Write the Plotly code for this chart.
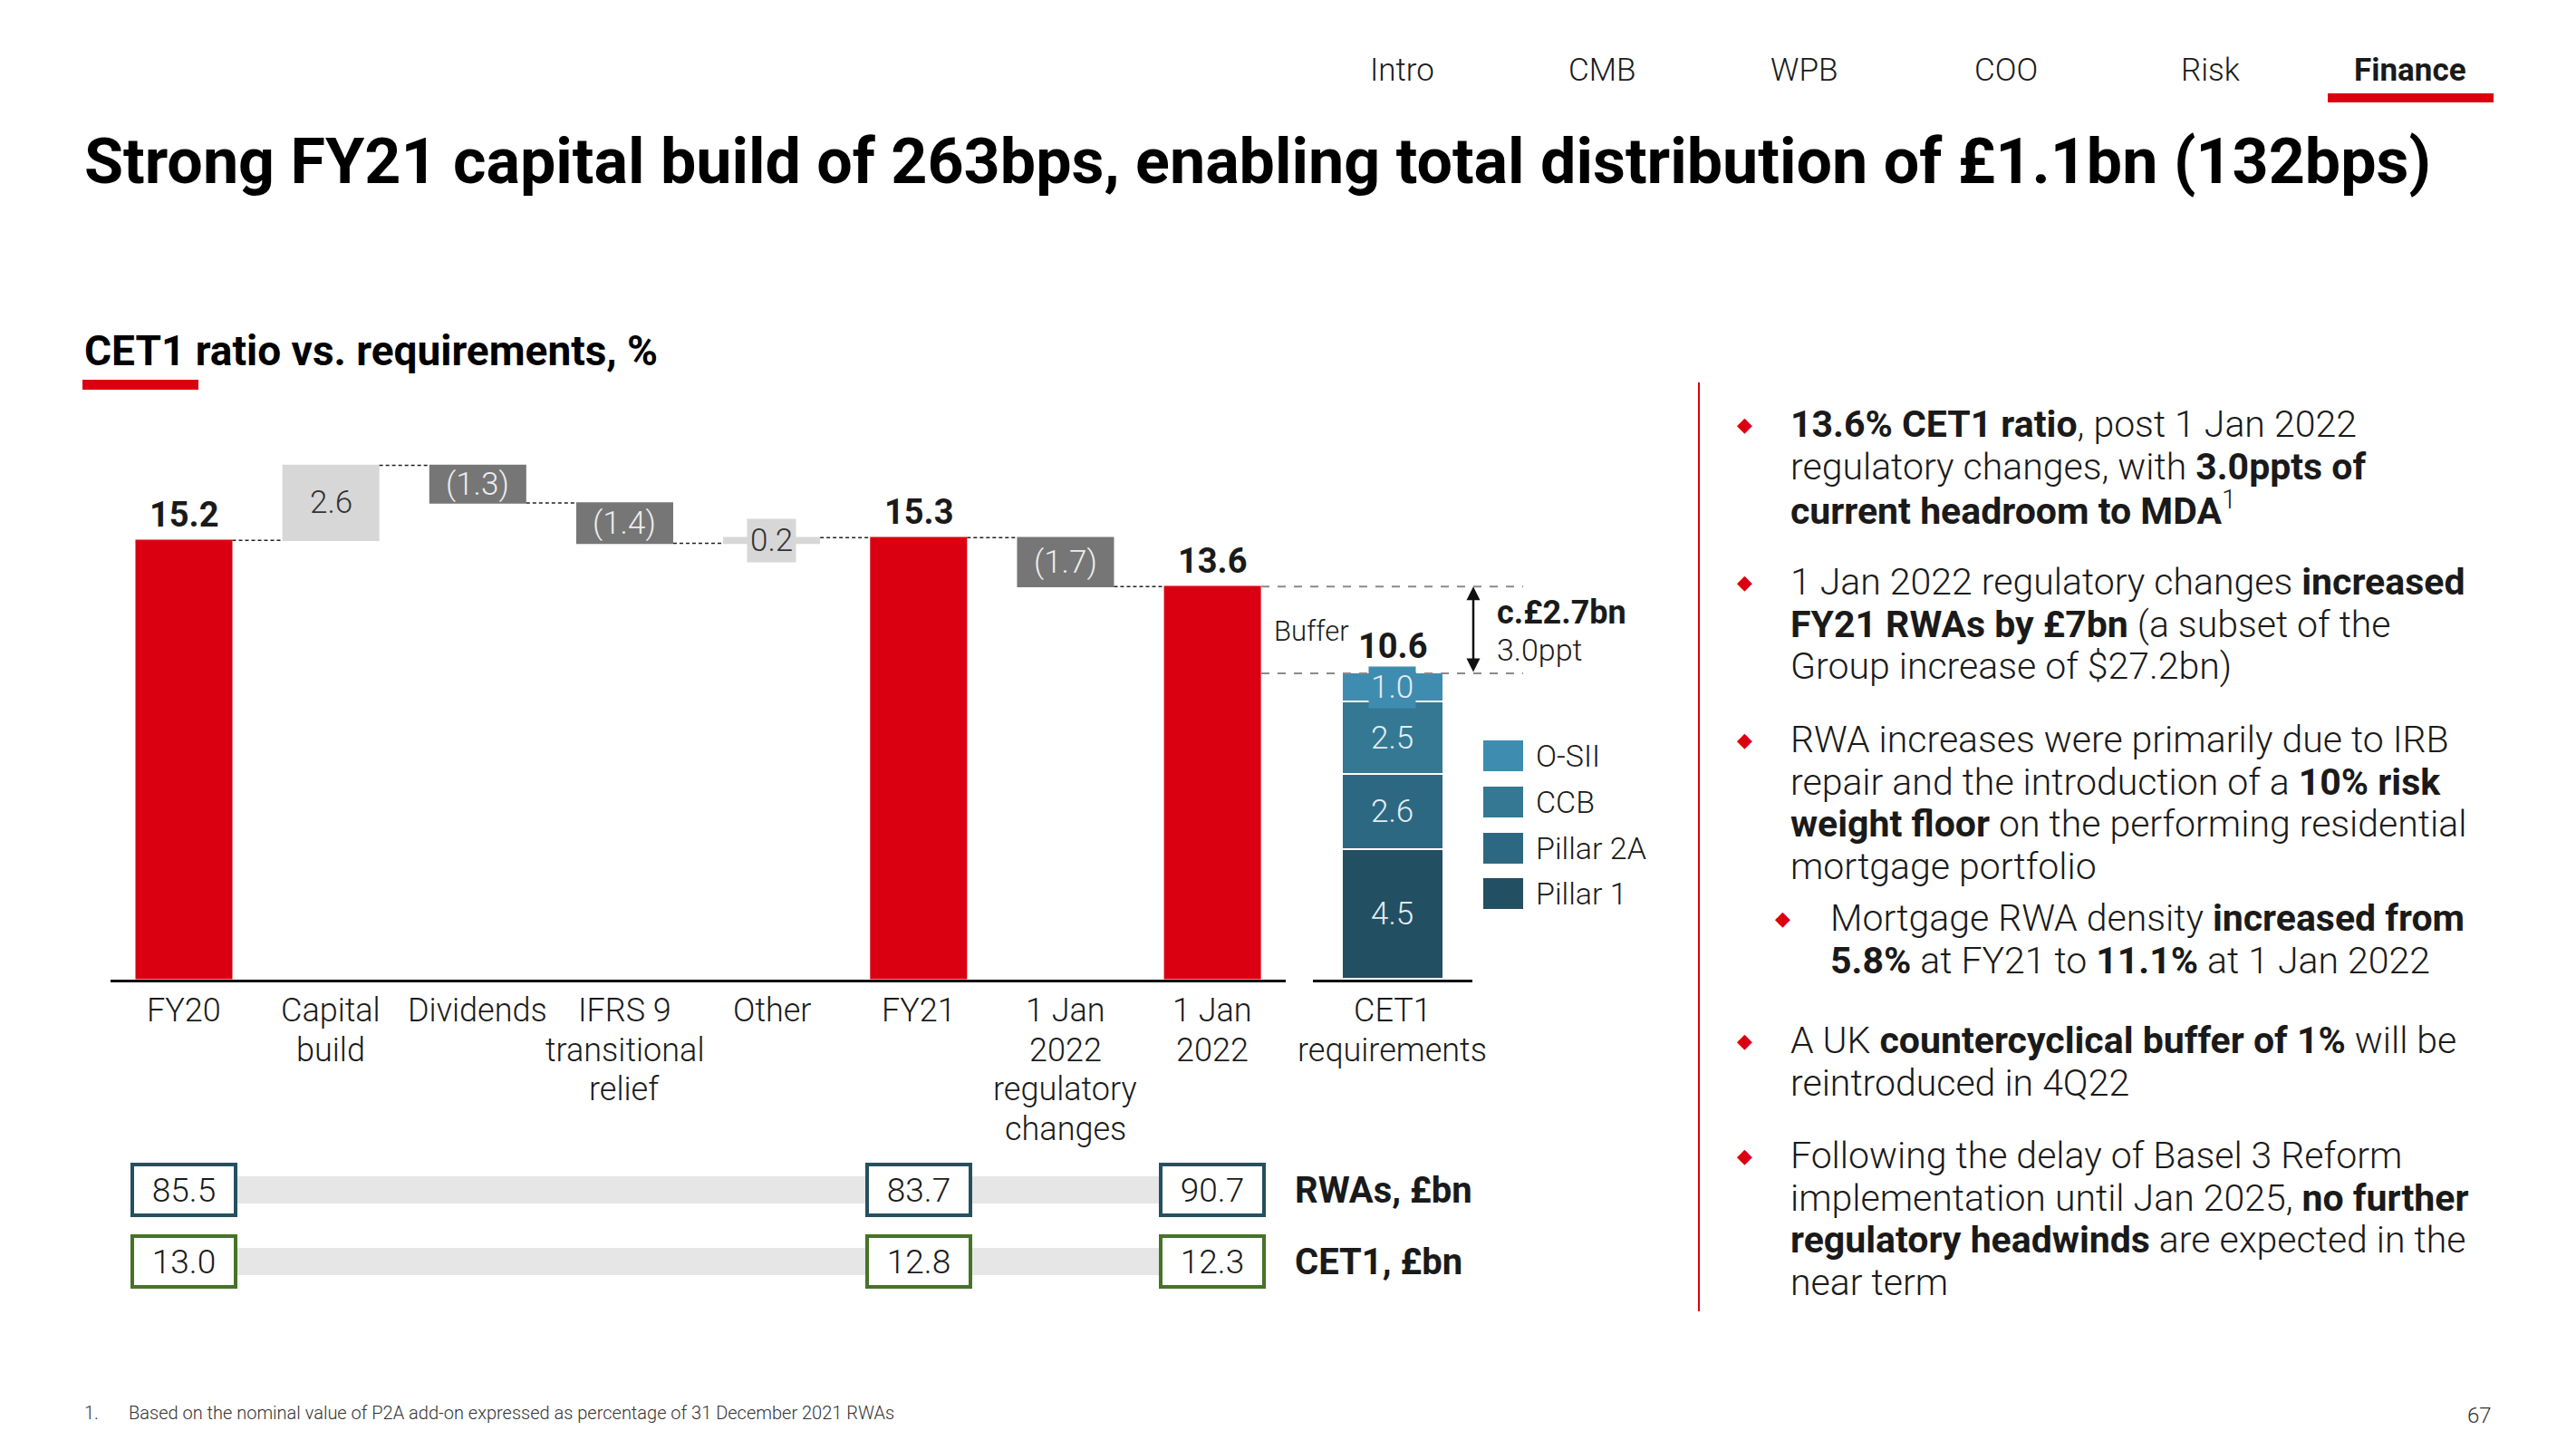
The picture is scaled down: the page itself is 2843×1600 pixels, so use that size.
import plotly.graph_objects as go

W, H = 2843, 1600

# ---------------- data ----------------
categories = ["FY20", "Capital build", "Dividends", "IFRS 9 transitional relief", "Other",
              "FY21", "1 Jan 2022 regulatory changes", "1 Jan 2022"]
cat_labels = ["FY20", "Capital<br>build", "Dividends", "IFRS 9<br>transitional<br>relief", "Other",
              "FY21", "1 Jan<br>2022<br>regulatory<br>changes", "1 Jan<br>2022"]
measures = ["absolute", "relative", "relative", "relative", "relative", "total", "relative", "total"]
values = [15.2, 2.6, -1.3, -1.4, 0.2, 0, -1.7, 0]

req_category = "CET1<br>requirements"
req_components = ["Pillar 1", "Pillar 2A", "CCB", "O-SII"]
req_values = [4.5, 2.6, 2.5, 1.0]
req_colors = ["#234f62", "#2d6882", "#347894", "#3e8cb0"]

ratio_cats = ["FY20", "FY21", "1 Jan 2022"]
rwa_values = [85.5, 83.7, 90.7]
cet1_values = [13.0, 12.8, 12.3]

buffer_bn = "c.£2.7bn"
buffer_ppt = "3.0ppt"

nav_items = ["Intro", "CMB", "WPB", "COO", "Risk", "Finance"]

# ---------------- styles ----------------
RED = "#db0011"
LIGHT = "#d7d7d7"
DARK = "#767676"
TXT = "#1a1a1a"
FONT = "Roboto"
RWA_COL = "#24505f"
CET_COL = "#467326"


def px(x):
    return x / W


def py(y):
    return 1 - y / H


# running levels for the waterfall
starts, ends = [], []
cur = 0.0
for m, v in zip(measures, values):
    if m == "absolute":
        s, cur = 0.0, v
        starts.append(s); ends.append(cur)
    elif m == "relative":
        s = cur
        cur = round(cur + v, 6)
        starts.append(s); ends.append(cur)
    else:
        starts.append(0.0); ends.append(cur)

fig = go.Figure()

fig.add_trace(go.Waterfall(
    x=categories, y=values, measure=measures, width=0.66,
    increasing=dict(marker=dict(color=LIGHT)),
    decreasing=dict(marker=dict(color=DARK)),
    totals=dict(marker=dict(color=RED)),
    connector=dict(mode="between", line=dict(color="#222222", width=1.5, dash="4px,3px")),
    hoverinfo="skip", showlegend=False, xaxis="x", yaxis="y",
))

for comp, val, col in zip(req_components, req_values, req_colors):
    fig.add_trace(go.Bar(
        x=[req_category], y=[val], name=comp, width=0.64,
        marker=dict(color=col, line=dict(color="white", width=2)),
        hoverinfo="skip", showlegend=False, xaxis="x2", yaxis="y",
    ))

ann = []
shapes = []


def note(**kw):
    kw.setdefault("showarrow", False)
    kw.setdefault("xanchor", "center")
    kw.setdefault("yanchor", "middle")
    ann.append(kw)


# value labels on the waterfall
for c, m, v, s, e in zip(categories, measures, values, starts, ends):
    if m in ("absolute", "total"):
        note(x=c, y=e, xref="x", yref="y", text=f"<b>{e:.1f}</b>",
             yanchor="bottom", yshift=4, font=dict(size=38, color=TXT))
    else:
        txt = f"({abs(v):.1f})" if v < 0 else f"{v:.1f}"
        col = "#ededed" if v < 0 else "#333333"
        d = dict(x=c, y=(s + e) / 2, xref="x", yref="y", text=txt, font=dict(size=35, color=col))
        if abs(v) < 0.5:
            d.update(bgcolor=LIGHT, borderpad=3)
        note(**d)

# category labels (one annotation per line)
LINE0, STEP = 1115, 43.5
for c, lab in zip(categories, cat_labels):
    for i, line in enumerate(lab.split("<br>")):
        note(x=c, y=py(LINE0 + i * STEP), xref="x", yref="paper", text=line,
             font=dict(size=36, color=TXT))
for i, line in enumerate(req_category.split("<br>")):
    note(x=req_category, y=py(LINE0 + i * STEP), xref="x2", yref="paper", text=line,
         font=dict(size=36, color=TXT))

# stacked requirement labels
cum = 0.0
for comp, val, col in zip(req_components, req_values, req_colors):
    d = dict(x=req_category, y=cum + val / 2, xref="x2", yref="y", text=f"{val:.1f}",
             font=dict(size=35, color="#e4edf2"))
    if val < 1.5:
        d.update(bgcolor=col, borderpad=2)
    note(**d)
    cum += val
req_total = round(cum, 6)
note(x=req_category, y=req_total, xref="x2", yref="y", text=f"<b>{req_total:.1f}</b>",
     yanchor="bottom", yshift=6, font=dict(size=38, color=TXT))

# buffer annotation
final_ratio = ends[-1]
shapes.append(dict(type="line", xref="paper", yref="y", x0=px(1392), x1=px(1681),
                   y0=final_ratio, y1=final_ratio, line=dict(color="#8a8a8a", width=2, dash="dash")))
shapes.append(dict(type="line", xref="paper", yref="y", x0=px(1392), x1=px(1681),
                   y0=req_total, y1=req_total, line=dict(color="#8a8a8a", width=2, dash="dash")))
ann.append(dict(x=px(1626), y=final_ratio, xref="paper", yref="y", ax=0, axref="pixel",
                ay=req_total, ayref="y", text="", showarrow=True, arrowside="end+start",
                arrowhead=2, arrowsize=1.2, arrowwidth=2.5, arrowcolor="#111111"))
note(x=px(1650), y=py(676), xref="paper", yref="paper", text=f"<b>{buffer_bn}</b>",
     xanchor="left", font=dict(size=36, color=TXT))
note(x=px(1650), y=py(717), xref="paper", yref="paper", text=buffer_ppt,
     xanchor="left", font=dict(size=34, color=TXT))
note(x=px(1447), y=py(697), xref="paper", yref="paper", text="Buffer",
     font=dict(size=31, color=TXT))

# legend (manual)
leg_y = [834, 885, 936, 986]
for comp, col, yy in zip(req_components[::-1], req_colors[::-1], leg_y):
    shapes.append(dict(type="rect", xref="paper", yref="paper", x0=px(1637), x1=px(1681),
                       y0=py(yy - 17), y1=py(yy + 17), fillcolor=col, line=dict(width=0)))
    note(x=px(1693), y=py(yy), xref="paper", yref="paper", text=comp,
         xanchor="left", font=dict(size=34, color=TXT))

# RWA / CET1 rows
rows = [(rwa_values, RWA_COL, 1313, "RWAs, £bn"), (cet1_values, CET_COL, 1392, "CET1, £bn")]
for vals, col, yc, label in rows:
    shapes.append(dict(type="rect", xref="x", yref="paper", x0=ratio_cats[0], x1=ratio_cats[-1],
                       y0=py(yc - 15), y1=py(yc + 15), fillcolor="#e6e6e6", line=dict(width=0),
                       layer="below"))
    for c, v in zip(ratio_cats, vals):
        note(x=c, y=py(yc), xref="x", yref="paper", text=f"{v:.1f}",
             width=108, height=50, bgcolor="white", bordercolor=col, borderwidth=4,
             borderpad=1, font=dict(size=37, color=TXT))
    note(x=px(1427), y=py(yc), xref="paper", yref="paper", text=f"<b>{label}</b>",
         xanchor="left", font=dict(size=40, color=TXT))

# header
nav_x = [1547, 1768, 1991, 2214, 2439, 2660]
for item, xx in zip(nav_items, nav_x):
    t = f"<b>{item}</b>" if item == "Finance" else item
    note(x=px(xx), y=py(78), xref="paper", yref="paper", text=t, font=dict(size=35, color=TXT))
shapes.append(dict(type="rect", xref="paper", yref="paper", x0=px(2569), x1=px(2752),
                   y0=py(103), y1=py(113), fillcolor=RED, line=dict(width=0)))

note(x=px(91), y=py(178), xref="paper", yref="paper", xanchor="left",
     text="<b>Strong FY21 capital build of 263bps, enabling total distribution of £1.1bn (132bps)</b>",
     font=dict(size=70, color="#000000"))
note(x=px(91), y=py(387), xref="paper", yref="paper", xanchor="left",
     text="<b>CET1 ratio vs. requirements, %</b>", font=dict(size=46, color="#000000"))
shapes.append(dict(type="rect", xref="paper", yref="paper", x0=px(91), x1=px(219),
                   y0=py(419), y1=py(430), fillcolor=RED, line=dict(width=0)))

# right panel
shapes.append(dict(type="line", xref="paper", yref="paper", x0=px(1875), x1=px(1875),
                   y0=py(422), y1=py(1447), line=dict(color=RED, width=2)))
BSTEP = 46.5
bullets = [
    (1974, 1925, 468, "<b>13.6% CET1 ratio</b>, post 1 Jan 2022<br>regulatory changes, with <b>3.0ppts of</b><br><b>current headroom to MDA</b><sup>1</sup>"),
    (1974, 1925, 642, "1 Jan 2022 regulatory changes <b>increased</b><br><b>FY21 RWAs by £7bn</b> (a subset of the<br>Group increase of $27.2bn)"),
    (1974, 1925, 816, "RWA increases were primarily due to IRB<br>repair and the introduction of a <b>10% risk</b><br><b>weight floor</b> on the performing residential<br>mortgage portfolio"),
    (2018, 1967, 1013, "Mortgage RWA density <b>increased from</b><br><b>5.8%</b> at FY21 to <b>11.1%</b> at 1 Jan 2022"),
    (1974, 1925, 1148, "A UK <b>countercyclical buffer of 1%</b> will be<br>reintroduced in 4Q22"),
    (1974, 1925, 1275, "Following the delay of Basel 3 Reform<br>implementation until Jan 2025, <b>no further</b><br><b>regulatory headwinds</b> are expected in the<br>near term"),
]
for tx, dx, y0, txt in bullets:
    note(x=px(dx), y=py(y0), xref="paper", yref="paper", text="◆",
         font=dict(size=22, color=RED, family="DejaVu Sans"))
    for i, line in enumerate(txt.split("<br>")):
        note(x=px(tx), y=py(y0 + i * BSTEP), xref="paper", yref="paper", text=line,
             xanchor="left", font=dict(size=41, color=TXT))

# footer
note(x=px(91), y=py(1559), xref="paper", yref="paper", xanchor="left", text="1.",
     font=dict(size=20, color="#333333"))
note(x=px(140), y=py(1559), xref="paper", yref="paper", xanchor="left",
     text="Based on the nominal value of P2A add-on expressed as percentage of 31 December 2021 RWAs",
     font=dict(size=20, color="#333333"))
note(x=px(2752), y=py(1562), xref="paper", yref="paper", xanchor="right", text="67",
     font=dict(size=24, color="#333333"))

y_bottom, y_top = 1080.6, 1080.6 - 20 * 31.86
fig.update_layout(
    width=W, height=H, margin=dict(l=0, r=0, t=0, b=0),
    paper_bgcolor="white", plot_bgcolor="white",
    font=dict(family=FONT, color=TXT, weight=300),
    barmode="stack", bargap=0,
    xaxis=dict(type="category", categoryorder="array", categoryarray=categories,
               range=[-0.5, 7.5], domain=[px(121.9), px(1419.2)], anchor="y",
               showline=True, linecolor="#111111", linewidth=3, showticklabels=False,
               showgrid=False, zeroline=False, ticks=""),
    xaxis2=dict(type="category", range=[-0.5, 0.5], domain=[px(1448.7), px(1624.5)], anchor="y",
                showline=True, linecolor="#111111", linewidth=3, showticklabels=False,
                showgrid=False, zeroline=False, ticks=""),
    yaxis=dict(range=[0, 20], domain=[py(y_bottom), py(y_top)], visible=False),
    annotations=ann, shapes=shapes, showlegend=False,
)

fig.write_html("out.html")
